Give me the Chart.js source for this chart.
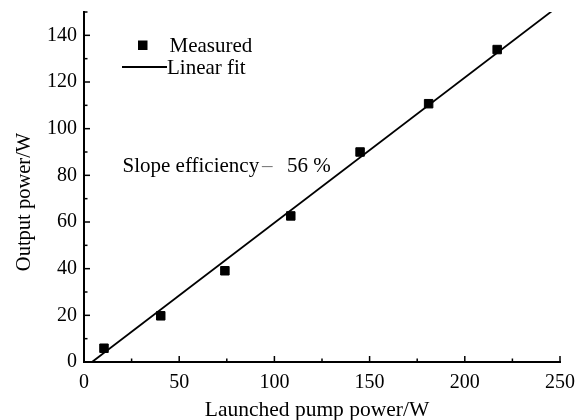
<!DOCTYPE html>
<html>
<head>
<meta charset="utf-8">
<script src="https://cdn.jsdelivr.net/npm/chart.js@4/dist/chart.umd.min.js"></script>
<style>
  html, body { margin: 0; padding: 0; background: #fff; }
  #wrap { width: 585px; height: 420px; }
</style>
</head>
<body>
<div id="wrap"><canvas id="c" width="585" height="420"></canvas></div>
<script>
// Launched pump power (W) and measured output power (W)
const pumpPower = [10.5, 40.3, 74, 108.6, 145, 181, 217];
const outputPower = [5.9, 19.8, 39.1, 62.6, 90.0, 110.7, 133.9];

// Linear fit end points
const fitPump = [4.2, 245.6];
const fitOutput = [0, 150.3];

// Axis ranges and tick spacing
const xRange = [0, 250];
const yRange = [0, 150];
const xMinorStep = 25, xMajorStep = 50;
const yMinorStep = 10, yMajorStep = 20;

const xTitle = 'Launched pump power/W';
const yTitle = 'Output power/W';
const legendLabels = ['Measured', 'Linear fit'];
const slopeText = ['Slope efficiency', '–', '56 %'];

const SERIF = '"Liberation Serif", "DejaVu Serif", serif';

// Inward tick marks, axis titles, legend and slope note
const decorations = {
  id: 'decorations',
  afterDraw(chart) {
    const ctx = chart.ctx;
    const xs = chart.scales.x, ys = chart.scales.y;
    const area = chart.chartArea;
    ctx.save();
    ctx.strokeStyle = '#000';
    ctx.lineWidth = 1.5;
    xs.ticks.forEach(t => {
      const px = xs.getPixelForValue(t.value);
      const len = (t.value % xMajorStep === 0) ? 6 : 3.5;
      ctx.beginPath();
      ctx.moveTo(px, area.bottom);
      ctx.lineTo(px, area.bottom - len);
      ctx.stroke();
    });
    ys.ticks.forEach(t => {
      const py = ys.getPixelForValue(t.value);
      const len = (t.value % yMajorStep === 0) ? 6 : 3.5;
      ctx.beginPath();
      ctx.moveTo(area.left, py);
      ctx.lineTo(area.left + len, py);
      ctx.stroke();
    });

    ctx.fillStyle = '#000';
    // axis titles
    ctx.font = '21.5px ' + SERIF;
    ctx.textAlign = 'center';
    ctx.textBaseline = 'alphabetic';
    ctx.fillText(xTitle, 317, 416);
    ctx.save();
    ctx.translate(30, 202);
    ctx.rotate(-Math.PI / 2);
    ctx.font = '20.5px ' + SERIF;
    ctx.fillText(yTitle, 0, 0);
    ctx.restore();

    // legend
    const ds0 = chart.data.datasets[0], ds1 = chart.data.datasets[1];
    ctx.font = '21px ' + SERIF;
    ctx.textAlign = 'left';
    ctx.fillStyle = ds0.backgroundColor;
    ctx.fillRect(138, 40.5, 9.5, 9.5);
    ctx.fillStyle = '#000';
    ctx.fillText(legendLabels[0], 169.5, 52);
    ctx.strokeStyle = ds1.borderColor;
    ctx.lineWidth = ds1.borderWidth;
    ctx.beginPath();
    ctx.moveTo(122, 67);
    ctx.lineTo(167, 67);
    ctx.stroke();
    ctx.fillText(legendLabels[1], 167, 74);

    // slope efficiency note
    ctx.fillText(slopeText[0], 122.5, 172);
    ctx.fillStyle = '#777';
    ctx.fillText(slopeText[1], 262, 172);
    ctx.fillStyle = '#000';
    ctx.fillText(slopeText[2], 287, 172);
    ctx.restore();
  }
};

new Chart(document.getElementById('c'), {
  type: 'scatter',
  data: {
    datasets: [
      {
        label: legendLabels[0],
        data: pumpPower.map((x, i) => ({ x, y: outputPower[i] })),
        pointStyle: 'rect',
        pointRadius: 6,
        pointBorderWidth: 1,
        backgroundColor: '#000',
        borderColor: '#000',
        showLine: false,
        order: 0
      },
      {
        label: legendLabels[1],
        data: fitPump.map((x, i) => ({ x, y: fitOutput[i] })),
        showLine: true,
        borderColor: '#000',
        borderWidth: 1.8,
        pointRadius: 0,
        fill: false,
        order: 1
      }
    ]
  },
  options: {
    responsive: false,
    animation: false,
    devicePixelRatio: 1,
    layout: { padding: { top: 12, right: 25, left: 0, bottom: 0 } },
    plugins: {
      legend: { display: false },
      tooltip: { enabled: false }
    },
    scales: {
      x: {
        type: 'linear',
        min: xRange[0],
        max: xRange[1],
        grid: { display: false, drawTicks: false, tickLength: 0 },
        border: { display: true, color: '#000', width: 2 },
        ticks: {
          stepSize: xMinorStep,
          autoSkip: false,
          maxRotation: 0,
          padding: 9,
          color: '#000',
          font: { family: SERIF, size: 20 },
          callback: v => (v % xMajorStep === 0 ? String(v) : '')
        },
        afterFit: s => { s.height = 58; s.paddingLeft = 0; s.paddingRight = 0; }
      },
      y: {
        type: 'linear',
        min: yRange[0],
        max: yRange[1],
        grid: { display: false, drawTicks: false, tickLength: 0 },
        border: { display: true, color: '#000', width: 2 },
        ticks: {
          stepSize: yMinorStep,
          autoSkip: false,
          padding: 7,
          color: '#000',
          font: { family: SERIF, size: 20 },
          callback: v => (v % yMajorStep === 0 ? String(v) : '')
        },
        afterFit: s => { s.width = 84; s.paddingTop = 0; s.paddingBottom = 0; }
      }
    }
  },
  plugins: [decorations]
});
</script>
</body>
</html>
